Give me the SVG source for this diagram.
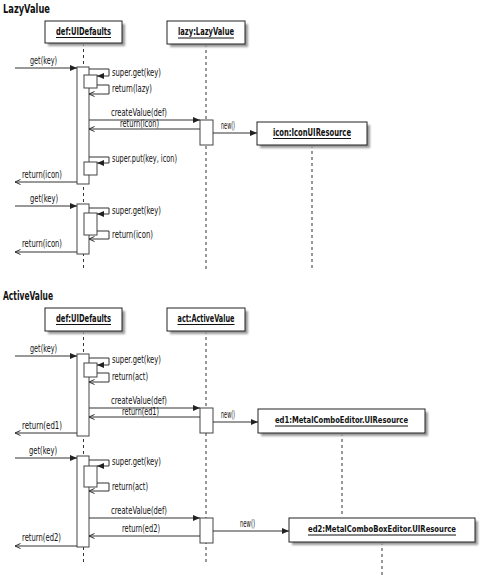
<svg xmlns="http://www.w3.org/2000/svg" width="482" height="578" viewBox="0 0 482 578">
<style>
text{font-family:"DejaVu Sans Condensed","Liberation Sans Narrow","Liberation Sans",sans-serif;fill:#111}
.t{font-size:11.5px;font-weight:bold}
.bx{font-size:10px;font-weight:bold;text-anchor:middle}
.bxs{font-size:9px;font-weight:bold;text-anchor:middle}
.lb{font-size:10px}
.box{fill:#fff;stroke:#222;stroke-width:1}
.shadow{fill:#999;filter:url(#blur)}
.ul{stroke:#111;stroke-width:1}
.life{stroke:#333;stroke-width:1;stroke-dasharray:3,3;fill:none}
.act{fill:#fff;stroke:#444;stroke-width:1}
.call{stroke:#333;stroke-width:1;fill:none;marker-end:url(#fa)}
.ret{stroke:#333;stroke-width:1;fill:none;marker-end:url(#oa)}
</style>
<defs>
<filter id="blur" x="-10%" y="-20%" width="120%" height="140%"><feGaussianBlur stdDeviation="1.1"/></filter>
<marker id="fa" markerUnits="userSpaceOnUse" markerWidth="8" markerHeight="6" refX="7" refY="3" orient="auto"><path d="M0,0 L7,3 L0,6 z" fill="#222"/></marker>
<marker id="oa" markerUnits="userSpaceOnUse" markerWidth="8" markerHeight="8" refX="6.5" refY="3" orient="auto"><path d="M1,0.5 L6.5,3 L1,5.5" fill="none" stroke="#333" stroke-width="1"/></marker>
</defs>
<rect width="482" height="578" fill="#fff"/>

<text class="t" x="3" y="13" textLength="47" lengthAdjust="spacingAndGlyphs">LazyValue</text>
<text class="t" x="3" y="300" textLength="50" lengthAdjust="spacingAndGlyphs">ActiveValue</text>

<g id="lifelines">
<line class="life" x1="83.5" y1="43" x2="83.5" y2="270"/>
<line class="life" x1="206" y1="44" x2="206" y2="270"/>
<line class="life" x1="312" y1="145" x2="312" y2="268"/>
<line class="life" x1="83.5" y1="331" x2="83.5" y2="563"/>
<line class="life" x1="206" y1="331" x2="206" y2="563"/>
<line class="life" x1="342" y1="433" x2="342" y2="517"/>
<line class="life" x1="382" y1="542" x2="382" y2="578"/>
</g>

<g id="node-def1">
<rect class="shadow" x="48" y="24" width="77" height="22"/>
<rect class="box" x="45" y="21" width="77" height="22"/>
<text class="bx" x="83.5" y="34.5" textLength="55" lengthAdjust="spacingAndGlyphs">def:UIDefaults</text>
<line class="ul" x1="56" y1="37.5" x2="111" y2="37.5"/>
</g>
<g id="node-lazy">
<rect class="shadow" x="170" y="24" width="78" height="23"/>
<rect class="box" x="167" y="21" width="78" height="23"/>
<text class="bx" x="206" y="35" textLength="56" lengthAdjust="spacingAndGlyphs">lazy:LazyValue</text>
<line class="ul" x1="178" y1="38" x2="234" y2="38"/>
</g>
<g id="node-icon">
<rect class="shadow" x="260" y="125" width="110" height="23"/>
<rect class="box" x="257" y="122" width="110" height="23"/>
<text class="bx" x="312" y="135.5" textLength="78" lengthAdjust="spacingAndGlyphs">icon:IconUIResource</text>
<line class="ul" x1="273" y1="138.5" x2="351" y2="138.5"/>
</g>
<g id="node-def2">
<rect class="shadow" x="48" y="311" width="77" height="23"/>
<rect class="box" x="45" y="308" width="77" height="23"/>
<text class="bx" x="83.5" y="321.5" textLength="55" lengthAdjust="spacingAndGlyphs">def:UIDefaults</text>
<line class="ul" x1="56" y1="324.5" x2="111" y2="324.5"/>
</g>
<g id="node-act">
<rect class="shadow" x="170" y="311" width="78" height="23"/>
<rect class="box" x="167" y="308" width="78" height="23"/>
<text class="bx" x="206" y="321.5" textLength="57" lengthAdjust="spacingAndGlyphs">act:ActiveValue</text>
<line class="ul" x1="177.5" y1="324.5" x2="234.5" y2="324.5"/>
</g>
<g id="node-ed1">
<rect class="shadow" x="261" y="412" width="167" height="24"/>
<rect class="box" x="258" y="409" width="167" height="24"/>
<text class="bxs" x="341.5" y="423" textLength="133" lengthAdjust="spacingAndGlyphs">ed1:MetalComboEditor.UIResource</text>
<line class="ul" x1="275" y1="426" x2="408" y2="426"/>
</g>
<g id="node-ed2">
<rect class="shadow" x="292" y="521" width="186" height="24"/>
<rect class="box" x="289" y="518" width="186" height="24"/>
<text class="bxs" x="382" y="532" textLength="148" lengthAdjust="spacingAndGlyphs">ed2:MetalComboBoxEditor.UIResource</text>
<line class="ul" x1="308" y1="535" x2="456" y2="535"/>
</g>

<g id="activations">
<rect class="act" x="77" y="67" width="12" height="117"/>
<rect class="act" x="84" y="75" width="13" height="13"/>
<rect class="act" x="84" y="162" width="13" height="13"/>
<rect class="act" x="200" y="120" width="13" height="25"/>
<rect class="act" x="77" y="204" width="12" height="50"/>
<rect class="act" x="84" y="213" width="13" height="22"/>
<rect class="act" x="77" y="354" width="12" height="82"/>
<rect class="act" x="84" y="363" width="13" height="14"/>
<rect class="act" x="200" y="408" width="13" height="25"/>
<rect class="act" x="77" y="456" width="12" height="91"/>
<rect class="act" x="84" y="466" width="13" height="21"/>
<rect class="act" x="200" y="518" width="13" height="25"/>
</g>

<g id="connectors">
<line class="call" x1="15" y1="68" x2="77" y2="68"/>
<path class="call" d="M89,69 H109 V76 H97"/>
<path class="ret" d="M97,85 H109 V94 H89"/>
<line class="call" x1="89" y1="120" x2="200" y2="120"/>
<line class="ret" x1="200" y1="129" x2="89" y2="129"/>
<line class="call" x1="213" y1="133" x2="257" y2="133"/>
<path class="call" d="M89,157 H109 V163 H97"/>
<line class="ret" x1="77" y1="182" x2="15" y2="182"/>
<line class="call" x1="15" y1="206" x2="77" y2="206"/>
<path class="call" d="M89,208 H109 V214 H97"/>
<path class="ret" d="M97,231 H109 V239 H89"/>
<line class="ret" x1="77" y1="252" x2="15" y2="252"/>

<line class="call" x1="15" y1="356" x2="77" y2="356"/>
<path class="call" d="M89,358 H109 V365 H97"/>
<path class="ret" d="M97,373 H109 V382 H89"/>
<line class="call" x1="89" y1="408" x2="200" y2="408"/>
<line class="ret" x1="200" y1="417" x2="89" y2="417"/>
<line class="call" x1="213" y1="422" x2="258" y2="422"/>
<line class="ret" x1="77" y1="433" x2="15" y2="433"/>
<line class="call" x1="15" y1="458" x2="77" y2="458"/>
<path class="call" d="M89,460 H109 V466 H97"/>
<path class="ret" d="M97,483 H109 V491 H89"/>
<line class="call" x1="89" y1="518" x2="200" y2="518"/>
<line class="ret" x1="200" y1="536" x2="89" y2="536"/>
<line class="call" x1="213" y1="531" x2="289" y2="531"/>
<line class="ret" x1="77" y1="546" x2="15" y2="546"/>
</g>

<g id="labels">
<text class="lb" x="30" y="64" textLength="27" lengthAdjust="spacingAndGlyphs">get(key)</text>
<text class="lb" x="112" y="76" textLength="49" lengthAdjust="spacingAndGlyphs">super.get(key)</text>
<text class="lb" x="112" y="92" textLength="40" lengthAdjust="spacingAndGlyphs">return(lazy)</text>
<text class="lb" x="111" y="116" textLength="56" lengthAdjust="spacingAndGlyphs">createValue(def)</text>
<text class="lb" x="120" y="126.5" textLength="39" lengthAdjust="spacingAndGlyphs">return(icon)</text>
<text class="lb" x="221" y="129" textLength="14" lengthAdjust="spacingAndGlyphs">new()</text>
<text class="lb" x="112" y="162" textLength="65" lengthAdjust="spacingAndGlyphs">super.put(key, icon)</text>
<text class="lb" x="22" y="178" textLength="40" lengthAdjust="spacingAndGlyphs">return(icon)</text>
<text class="lb" x="30" y="202" textLength="28" lengthAdjust="spacingAndGlyphs">get(key)</text>
<text class="lb" x="112" y="214" textLength="49" lengthAdjust="spacingAndGlyphs">super.get(key)</text>
<text class="lb" x="112" y="238" textLength="41" lengthAdjust="spacingAndGlyphs">return(icon)</text>
<text class="lb" x="22" y="247" textLength="40" lengthAdjust="spacingAndGlyphs">return(icon)</text>

<text class="lb" x="30" y="352" textLength="27" lengthAdjust="spacingAndGlyphs">get(key)</text>
<text class="lb" x="112" y="363" textLength="49" lengthAdjust="spacingAndGlyphs">super.get(key)</text>
<text class="lb" x="112" y="380" textLength="36" lengthAdjust="spacingAndGlyphs">return(act)</text>
<text class="lb" x="111" y="404" textLength="56" lengthAdjust="spacingAndGlyphs">createValue(def)</text>
<text class="lb" x="122" y="414.5" textLength="37" lengthAdjust="spacingAndGlyphs">return(ed1)</text>
<text class="lb" x="221" y="418" textLength="14" lengthAdjust="spacingAndGlyphs">new()</text>
<text class="lb" x="22" y="429" textLength="40" lengthAdjust="spacingAndGlyphs">return(ed1)</text>
<text class="lb" x="29" y="454" textLength="28" lengthAdjust="spacingAndGlyphs">get(key)</text>
<text class="lb" x="112" y="465" textLength="49" lengthAdjust="spacingAndGlyphs">super.get(key)</text>
<text class="lb" x="112" y="490" textLength="36" lengthAdjust="spacingAndGlyphs">return(act)</text>
<text class="lb" x="111" y="514" textLength="56" lengthAdjust="spacingAndGlyphs">createValue(def)</text>
<text class="lb" x="122" y="532" textLength="38" lengthAdjust="spacingAndGlyphs">return(ed2)</text>
<text class="lb" x="240" y="527" textLength="15" lengthAdjust="spacingAndGlyphs">new()</text>
<text class="lb" x="22" y="541" textLength="39" lengthAdjust="spacingAndGlyphs">return(ed2)</text>
</g>
</svg>
